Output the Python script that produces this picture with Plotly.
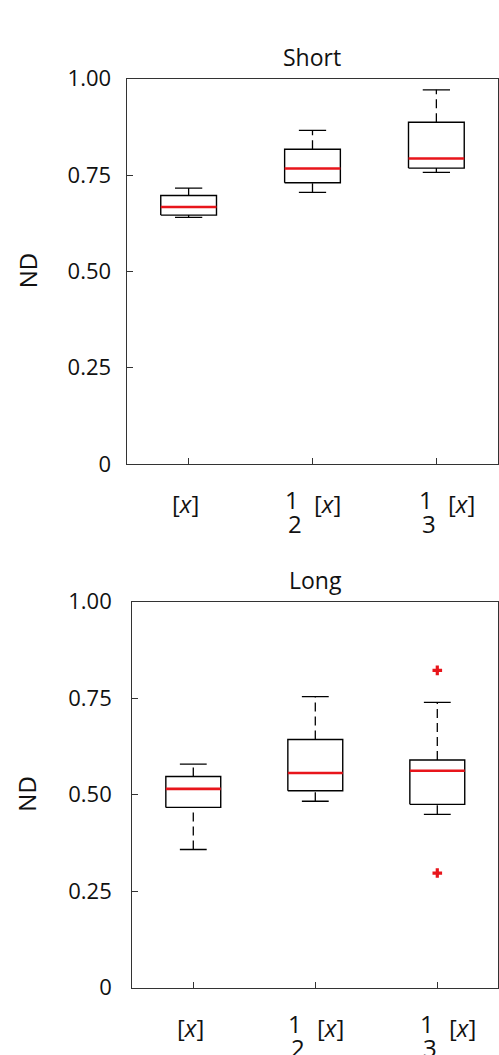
import plotly.graph_objects as go
from plotly.subplots import make_subplots

# categories: [x], 1/2[x], 1/3[x]
positions = [0, 1, 2]
tick_num = ["", "1", "1"]
tick_den = ["", "2", "3"]
tick_base = "[<i>x</i>]"

# Short
short_low = [0.640, 0.705, 0.757]
short_q1 = [0.646, 0.730, 0.768]
short_med = [0.667, 0.767, 0.793]
short_q3 = [0.697, 0.817, 0.887]
short_high = [0.716, 0.866, 0.971]

# Long
long_low = [0.358, 0.483, 0.449]
long_q1 = [0.467, 0.510, 0.475]
long_med = [0.515, 0.556, 0.562]
long_q3 = [0.547, 0.643, 0.590]
long_high = [0.579, 0.754, 0.739]
long_out_x = [2, 2]
long_out_y = [0.822, 0.297]

y_ticks = [0, 0.25, 0.5, 0.75, 1.0]
y_ticktext = ["0", "0.25", "0.50", "0.75", "1.00"]

FONT = "Open Sans"
AX = "#333333"
RED = "#e8151b"
HALF = 0.225   # half box width
CAP = 0.11     # half cap width


def add_boxes(fig, row, low, q1, med, q3, high):
    bx, by, wx, wy, cx, cy, mx, my = [], [], [], [], [], [], [], []
    for p, lo, a, m, b, hi in zip(positions, low, q1, med, q3, high):
        bx += [p - HALF, p + HALF, p + HALF, p - HALF, p - HALF, None]
        by += [a, a, b, b, a, None]
        wx += [p, p, None, p, p, None]
        wy += [b, hi, None, lo, a, None]
        cx += [p - CAP, p + CAP, None, p - CAP, p + CAP, None]
        cy += [hi, hi, None, lo, lo, None]
        mx += [p - HALF, p + HALF, None]
        my += [m, m, None]
    fig.add_trace(go.Scatter(x=wx, y=wy, mode="lines",
                             line=dict(color="black", width=1.3, dash="9px,5px")), row=row, col=1)
    fig.add_trace(go.Scatter(x=cx, y=cy, mode="lines",
                             line=dict(color="black", width=1.3)), row=row, col=1)
    fig.add_trace(go.Scatter(x=bx, y=by, mode="lines",
                             line=dict(color="black", width=1.4)), row=row, col=1)
    fig.add_trace(go.Scatter(x=mx, y=my, mode="lines",
                             line=dict(color=RED, width=2.6)), row=row, col=1)


fig = make_subplots(rows=2, cols=1)
add_boxes(fig, 1, short_low, short_q1, short_med, short_q3, short_high)
add_boxes(fig, 2, long_low, long_q1, long_med, long_q3, long_high)
fig.add_trace(go.Scatter(x=long_out_x, y=long_out_y, mode="markers",
                         marker=dict(symbol="cross", size=8, color=RED)), row=2, col=1)

axis_common = dict(showline=True, mirror=True, linecolor=AX, linewidth=1.3,
                   ticks="inside", ticklen=6, tickcolor=AX, tickwidth=1.2,
                   showgrid=False, zeroline=False, automargin=False,
                   tickfont=dict(family=FONT, size=22, color="#111"))

fig.update_xaxes(range=[-0.5, 2.5], tickvals=positions, ticktext=["", "", ""], **axis_common)
fig.update_yaxes(range=[0, 1], tickvals=y_ticks, ticktext=y_ticktext, **axis_common)

fig.update_layout(
    width=499, height=1055,
    margin=dict(l=0, r=0, t=0, b=0),
    paper_bgcolor="white", plot_bgcolor="white",
    showlegend=False,
    xaxis=dict(domain=[0.2539, 0.9986]),
    yaxis=dict(domain=[0.5602, 0.9254], ticklabelstandoff=10),
    xaxis2=dict(domain=[0.2651, 0.9986]),
    yaxis2=dict(domain=[0.0638, 0.4297], ticklabelstandoff=15),
)

lab_font = dict(family=FONT, size=24, color="#111")
ann = []
for xr, yr, title in [("x", "y", "Short"), ("x2", "y2", "Long")]:
    ann.append(dict(text=title, xref=xr + " domain", yref=yr + " domain", x=0.5, y=1,
                    xanchor="center", yanchor="middle", yshift=22, showarrow=False,
                    font=dict(family=FONT, size=23, color="#111")))
    ann.append(dict(text="ND", xref="paper", yref=yr + " domain", x=27 / 499, y=0.5,
                    xanchor="center", yanchor="middle", textangle=-90, showarrow=False,
                    font=dict(family=FONT, size=24, color="#111")))
    for p, n, d in zip(positions, tick_num, tick_den):
        base = dict(xref=xr, yref=yr + " domain", x=p, y=0, xanchor="center",
                    yanchor="middle", showarrow=False, font=lab_font)
        if n == "":
            ann.append(dict(base, text=tick_base, xshift=-3, yshift=-40))
        else:
            fx = -20 if p == 1 else -10
            ann.append(dict(base, text=n, xshift=fx, yshift=-36))
            ann.append(dict(base, text=d, xshift=fx + 3, yshift=-60))
            ann.append(dict(base, text=tick_base, xshift=fx + 35, yshift=-40))
fig.update_layout(annotations=ann)

fig.write_html("out.html", config={"displayModeBar": False},
               post_script="document.body.style.margin='0px';")
